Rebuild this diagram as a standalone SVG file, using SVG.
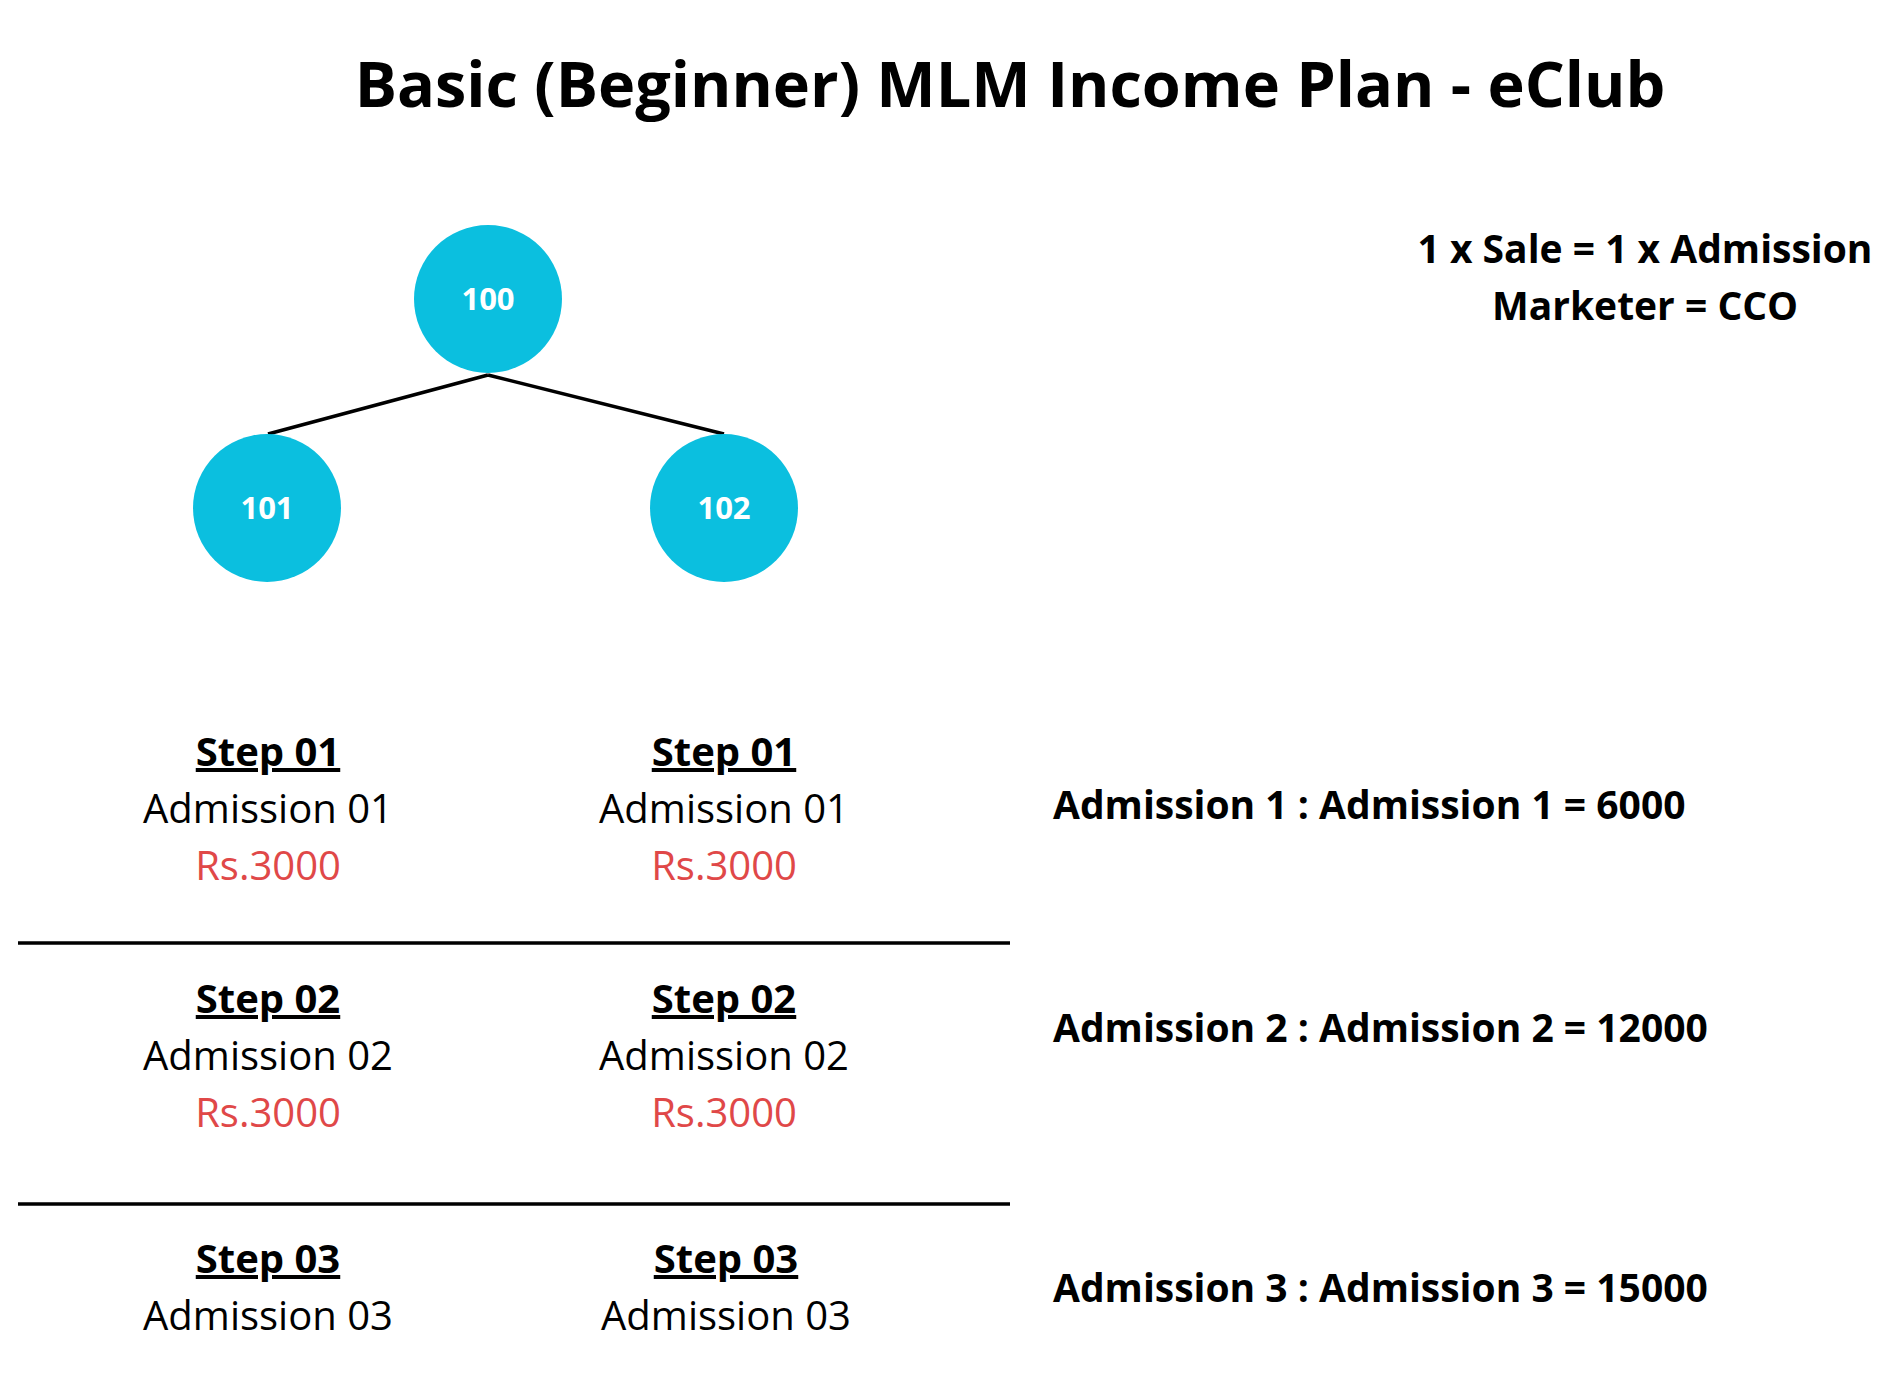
<svg xmlns="http://www.w3.org/2000/svg" width="1900" height="1400" viewBox="0 0 1900 1400">
<style>
text{font-family:"Open Sans","Liberation Sans",sans-serif;fill:#000}
.b{font-weight:bold}
.n{font-weight:bold;fill:#fff;font-size:31px}
.c{fill:#0bbfdf}
.s{font-weight:bold;font-size:40px;text-decoration:underline}
.a{font-size:40px}
.r{font-size:40px;fill:#e04848}
.k{font-weight:bold;font-size:39px}
.l{stroke:#000;stroke-width:3.5;fill:none}
</style>
<rect width="1900" height="1400" fill="#fff"/>
<text class="b" x="1010" y="107" font-size="63" text-anchor="middle">Basic (Beginner) MLM Income Plan - eClub</text>
<g id="connectors"><path class="l" d="M488 375 L268 434 M488 375 L724 434"/></g>
<g id="n100"><circle class="c" cx="488" cy="299" r="74"/><text class="n" x="488" y="310" text-anchor="middle">100</text></g>
<g id="n101"><circle class="c" cx="267" cy="508" r="74"/><text class="n" x="267" y="519" text-anchor="middle">101</text></g>
<g id="n102"><circle class="c" cx="724" cy="508" r="74"/><text class="n" x="724" y="519" text-anchor="middle">102</text></g>
<g text-anchor="middle">
<text class="k" x="1645" y="263">1 x Sale = 1 x Admission</text>
<text class="k" x="1645" y="320">Marketer = CCO</text>
<text class="s" x="268" y="766">Step 01</text><text class="a" x="268" y="823">Admission 01</text><text class="r" x="268" y="880">Rs.3000</text>
<text class="s" x="724" y="766">Step 01</text><text class="a" x="724" y="823">Admission 01</text><text class="r" x="724" y="880">Rs.3000</text>
<text class="s" x="268" y="1013">Step 02</text><text class="a" x="268" y="1070">Admission 02</text><text class="r" x="268" y="1127">Rs.3000</text>
<text class="s" x="724" y="1013">Step 02</text><text class="a" x="724" y="1070">Admission 02</text><text class="r" x="724" y="1127">Rs.3000</text>
<text class="s" x="268" y="1273">Step 03</text><text class="a" x="268" y="1330">Admission 03</text>
<text class="s" x="726" y="1273">Step 03</text><text class="a" x="726" y="1330">Admission 03</text>
</g>
<path class="l" d="M18 943 H1010 M18 1204 H1010"/>
<text class="k" x="1053" y="819">Admission 1 : Admission 1 = 6000</text>
<text class="k" x="1053" y="1042">Admission 2 : Admission 2 = 12000</text>
<text class="k" x="1053" y="1302">Admission 3 : Admission 3 = 15000</text>
</svg>
